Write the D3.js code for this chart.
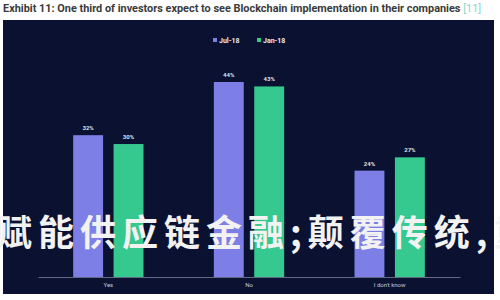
<!DOCTYPE html>
<html>
<head>
<meta charset="utf-8">
<script src="https://cdn.jsdelivr.net/npm/d3@7"></script>
<style>
html,body{margin:0;padding:0;background:#fff;}
svg{display:block;}
</style>
</head>
<body>
<svg id="c" width="500" height="300"></svg>
<script>
const categories = ["Yes", "No", "I don't know"];
const seriesNames = ["Jul-18", "Jan-18"];
const jul18 = [32, 44, 24];
const jan18 = [30, 43, 27];
const seriesColors = ["#7d7fe6", "#36c98f"];
const titleText = "Exhibit 11: One third of investors expect to see Blockchain implementation in their companies";
const titleRef = "[11]";
const overlayText = "赋能供应链金融;颠覆传统,重";

const svg = d3.select("#c");

// title
const title = svg.append("text")
  .attr("x", 3).attr("y", 11.5)
  .attr("font-family", "Roboto, 'Noto Sans', sans-serif")
  .attr("font-size", 10.9).attr("font-weight", 700)
  .attr("fill", "#3a3a3a");
title.append("tspan").text(titleText);
title.append("tspan").attr("fill", "#8fd3c9").attr("font-weight", 400).text(" " + titleRef);

// panel
svg.append("rect").attr("x", 3).attr("y", 20).attr("width", 491).attr("height", 274).attr("fill", "#0a1131");

// legend
const legend = svg.append("g").attr("font-family", "Roboto, 'Noto Sans', sans-serif").attr("font-size", 7).attr("font-weight", 700);
const legX = [213, 257];
seriesNames.forEach((s, i) => {
  legend.append("rect").attr("x", legX[i]).attr("y", 38).attr("width", 4).attr("height", 4).attr("fill", seriesColors[i]);
  legend.append("text").attr("x", legX[i] + 6).attr("y", 42.5).attr("fill", "#e8eaf2").text(s);
});

// scales
const x = d3.scaleBand().domain(categories).range([38, 460]).paddingInner(0.5).paddingOuter(0.25);
const xs = d3.scaleBand().domain(seriesNames).range([0, x.bandwidth()]).paddingInner(0.26);
const y = d3.scaleLinear().domain([0, 44]).range([277, 82]);

const data = categories.map((c, i) => ({cat: c, vals: [jul18[i], jan18[i]]}));

const groups = svg.append("g").selectAll("g").data(data).join("g")
  .attr("transform", d => `translate(${x(d.cat)},0)`);

groups.selectAll("rect").data(d => d.vals.map((v, j) => ({s: seriesNames[j], v, j})))
  .join("rect")
  .attr("x", d => xs(d.s)).attr("width", xs.bandwidth())
  .attr("y", d => y(d.v)).attr("height", d => y(0) - y(d.v))
  .attr("fill", d => seriesColors[d.j]);

groups.selectAll("text.val").data(d => d.vals.map((v, j) => ({s: seriesNames[j], v, j})))
  .join("text").attr("class", "val")
  .attr("x", d => xs(d.s) + xs.bandwidth() / 2).attr("y", d => y(d.v) - 5)
  .attr("text-anchor", "middle")
  .attr("font-family", "Roboto, 'Noto Sans', sans-serif")
  .attr("font-size", 6).attr("font-weight", 700)
  .attr("fill", "#dfe2ec")
  .text(d => d.v + "%");

// x axis
const xAxis = svg.append("g").attr("transform", `translate(0,${y(0)})`)
  .call(d3.axisBottom(x).tickSize(0).tickPadding(6));
xAxis.select(".domain").attr("stroke", "#7a8099").attr("stroke-width", 0.8);
xAxis.selectAll("text").attr("font-family", "Roboto, 'Noto Sans', sans-serif").attr("font-size", 6).attr("fill", "#c9ccd8");

// overlay text
svg.append("text")
  .attr("x", -4).attr("y", 246)
  .attr("font-family", "'Noto Sans CJK SC', sans-serif")
  .attr("font-size", 36).attr("font-weight", 700)
  .attr("letter-spacing", 6)
  .attr("fill", "#f2f2f2")
  .text(overlayText);
</script>
</body>
</html>
